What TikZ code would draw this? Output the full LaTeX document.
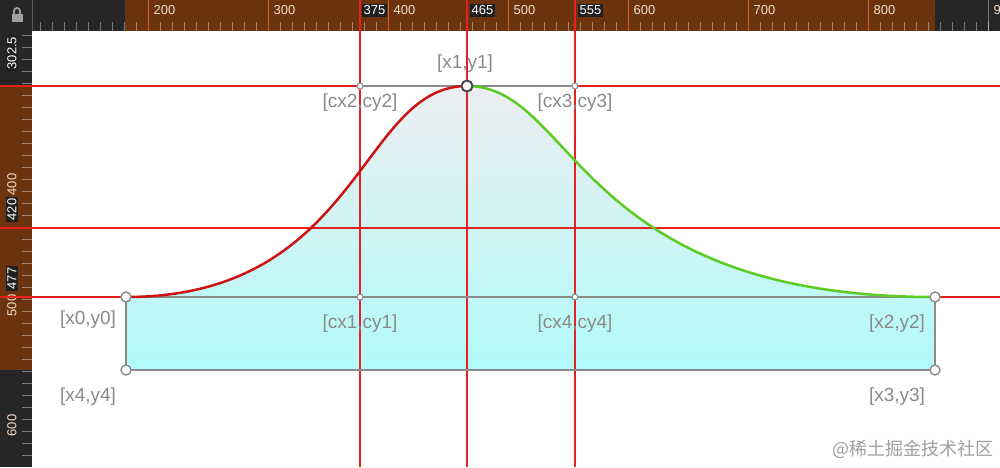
\documentclass[tikz,border=0pt]{standalone}
\usepackage{fontspec}
\setmainfont{Liberation Sans}
\newfontfamily\cjk{Noto Sans CJK SC}
\usepackage{tikz}
\definecolor{rulerdark}{HTML}{262626}
\definecolor{rulerbrown}{HTML}{6B340F}
\definecolor{tickmajor}{HTML}{D9652E}
\definecolor{ticktext}{HTML}{F2DCCB}
\definecolor{guidered}{HTML}{E82020}
\definecolor{curvered}{HTML}{CC1414}
\definecolor{curvegreen}{HTML}{5ACC22}
\definecolor{edgegray}{HTML}{8A8A8A}
\definecolor{lblgray}{HTML}{8A8A8A}
\definecolor{filltop}{HTML}{ECEEF0}
\definecolor{fillbot}{HTML}{B2FAFA}

\begin{document}
\begin{tikzpicture}[x=1pt, y=-1pt, every node/.style={inner sep=1.5pt}, lbl/.style={text=lblgray, font=\fontsize{19}{22}\selectfont}, rtext/.style={text=ticktext, font=\fontsize{13}{15}\selectfont}, rmark/.style={fill=rulerdark!85!black, text=white, font=\fontsize{13}{15}\selectfont}, tick/.style={white, opacity=.4, line width=.8pt}, guide/.style={guidered, line width=1.05pt}, edge/.style={edgegray, line width=2pt}, hdl/.style={circle, draw=edgegray, fill=white, line width=1pt, minimum size=6pt, inner sep=0pt}, hdlbig/.style={circle, draw=edgegray, fill=white, line width=1.4pt, minimum size=10pt, inner sep=0pt}, hdltop/.style={circle, draw=black!70, fill=white, line width=2pt, minimum size=11pt, inner sep=0pt}]
\useasboundingbox (0,0) rectangle (1000,467);
\fill[white] (0,0) rectangle (1000,467);
% points of the path
\coordinate (p0) at (126,297); \coordinate (p1) at (467,86); \coordinate (p2) at (935,297);
\coordinate (p3) at (935,370); \coordinate (p4) at (126,370);
\coordinate (c1) at (360,297); \coordinate (c2) at (360,86); \coordinate (c3) at (575,86); \coordinate (c4) at (575,297);
% rulers
\fill[rulerdark] (0,0) rectangle (1000,31);
\fill[rulerbrown] (125,0) rectangle (935,31);
\fill[rulerdark] (0,31) rectangle (32,467);
\fill[rulerbrown] (0,85) rectangle (32,370);
\draw[white, opacity=.25] (32,0) -- (32,31);
\foreach \k in {-9,...,70} \draw[tick] (148+12*\k,22) -- (148+12*\k,31);
\foreach \k in {-4,...,32} \draw[tick] (22,83+12*\k) -- (32,83+12*\k);
\foreach \v in {200,300,...,800} {
  \draw[tickmajor, line width=1pt] (148+1.2*\v-240,0) -- (148+1.2*\v-240,31);
  \node[rtext, anchor=west] at (152+1.2*\v-240,10.5) {\v};
}
\draw[white, opacity=.4, line width=1pt] (988,0) -- (988,31);
\node[rtext, anchor=west] at (992,10.5) {900};
\foreach \v/\y in {400/197,500/318,600/438} \node[rtext, rotate=90, anchor=west] at (12,\y) {\v};
% lock
\fill[gray!75] (11.5,14) rectangle (22.5,22);
\draw[gray!75, line width=1.8pt] (14,14.5) -- (14,11) arc[start angle=180, end angle=360, radius=3] -- (20,14.5);
% shape
\shade[top color=filltop, bottom color=fillbot] (p4) -- (p0) .. controls (c1) and (c2) .. (p1) .. controls (c3) and (c4) .. (p2) -- (p3) -- cycle;
% guides
\foreach \x in {360,467,575} \draw[guide] (\x,0) -- (\x,467);
\foreach \y in {86,228,297} \draw[guide] (0,\y) -- (1000,\y);
% ruler marks of the guides
\node[rmark, anchor=west] (m375) at (362,10.5) {375};
\node[rmark, anchor=west] (m465) at (470,10.5) {465};
\node[rmark, anchor=west] (m555) at (578,10.5) {555};
\node[rmark, rotate=90, anchor=west] (m302) at (12,71) {302.5};
\node[rmark, rotate=90, anchor=west] (m420) at (12,222) {420};
\node[rmark, rotate=90, anchor=west] (m477) at (12,291) {477};
% outline and handles
\draw[edge] (p0) -- (p2) -- (p3) -- (p4) -- cycle;
\draw[edgegray, line width=1.5pt] (c2) -- (c3);
\draw[curvered, line width=2.5pt] (p0) .. controls (c1) and (c2) .. (p1);
\draw[curvegreen, line width=2.5pt] (p1) .. controls (c3) and (c4) .. (p2);
\foreach \n in {c1,c2,c3,c4} \node[hdl] (h\n) at (\n) {};
\foreach \n in {p0,p2,p3,p4} \node[hdlbig] (h\n) at (\n) {};
\node[hdltop] (hp1) at (p1) {};
% labels
\node[lbl] (lp1) at (465,64) {[x1,y1]};
\node[lbl] (lc2) at (360,103) {[cx2,cy2]};
\node[lbl] (lc3) at (575,103) {[cx3,cy3]};
\node[lbl] (lp0) at (88,320) {[x0,y0]};
\node[lbl] (lc1) at (360,324) {[cx1,cy1]};
\node[lbl] (lc4) at (575,324) {[cx4,cy4]};
\node[lbl] (lp2) at (897,324) {[x2,y2]};
\node[lbl] (lp4) at (88,397) {[x4,y4]};
\node[lbl] (lp3) at (897,397) {[x3,y3]};
\node[text=gray!75, font=\cjk\fontsize{18}{20}\selectfont] (wm) at (913,449) {@稀土掘金技术社区};
\end{tikzpicture}
\end{document}
